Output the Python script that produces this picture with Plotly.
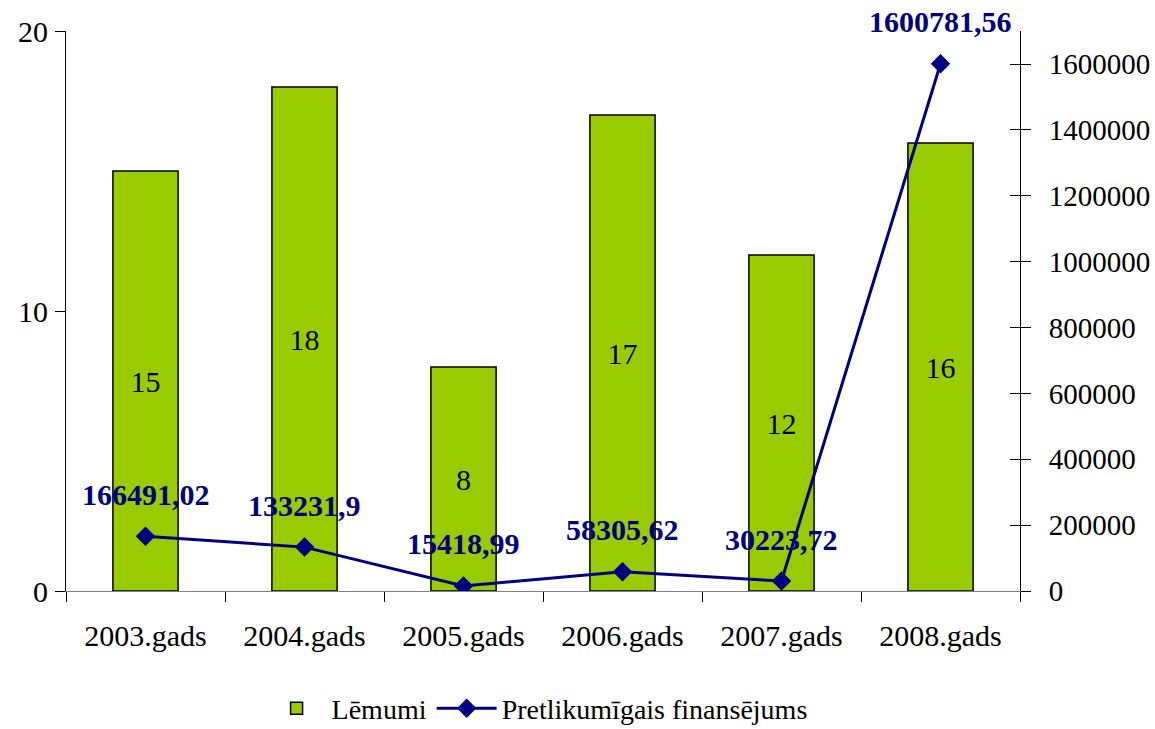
import plotly.graph_objects as go

years = ['2003.gads', '2004.gads', '2005.gads', '2006.gads', '2007.gads', '2008.gads']
lemumi = [15, 18, 8, 17, 12, 16]
finansejums = [166491.02, 133231.9, 15418.99, 58305.62, 30223.72, 1600781.56]
fin_labels = ['166491,02', '133231,9', '15418,99', '58305,62', '30223,72', '1600781,56']

FONT = 'Liberation Serif'
NAVY = '#000080'
FS = 30

fig = go.Figure()

# bars on left axis
fig.add_trace(go.Bar(
    x=years, y=lemumi, name='Lēmumi',
    marker=dict(color='#99CC00', line=dict(color='black', width=1.5)),
    width=0.41,
    text=[str(v) for v in lemumi], textposition='inside',
    insidetextanchor='middle', textangle=0,
    textfont=dict(family=FONT, size=FS, color='black'),
))

# line on right axis
fig.add_trace(go.Scatter(
    x=years, y=finansejums, name='Pretlikumīgais finansējums', yaxis='y2',
    mode='lines+markers',
    line=dict(color=NAVY, width=3),
    marker=dict(symbol='diamond', size=15, color=NAVY),
))

for x, y, t in zip(years, finansejums, fin_labels):
    fig.add_annotation(x=x, y=y, yref='y2', text=t, showarrow=False, yshift=42,
                       font=dict(family=FONT, size=FS, color=NAVY, weight='bold'))

right_max = 1600000 * 560 / 527
right_ticks = [0, 200000, 400000, 600000, 800000, 1000000, 1200000, 1400000, 1600000]

fig.update_layout(
    width=1155, height=729,
    margin=dict(l=66, r=135, t=31, b=138),
    plot_bgcolor='white', paper_bgcolor='white',
    font=dict(family=FONT, size=FS, color='black'),
    bargap=0.59,
    xaxis=dict(
        showline=True, linecolor='#808080', linewidth=1, automargin=False,
        ticks='outside', tickson='boundaries', ticklen=10, tickcolor='black',
        tickfont=dict(size=FS), showgrid=False, ticklabelstandoff=18,
    ),
    yaxis=dict(
        range=[0, 20], tickvals=[0, 10, 20], showgrid=False, zeroline=False,
        showline=True, linecolor='black', linewidth=1, automargin=False,
        ticks='outside', ticklen=10, tickcolor='black', ticklabelstandoff=1,
    ),
    yaxis2=dict(
        range=[0, right_max], overlaying='y', side='right', automargin=False,
        tickvals=right_ticks, tickfont=dict(size=29),
        tickformat='d', showgrid=False, zeroline=False,
        showline=True, linecolor='black', linewidth=1,
        ticks='outside', ticklen=10, tickcolor='black', ticklabelstandoff=12,
    ),
    yaxis3=dict(
        range=[0, right_max], overlaying='y', side='right', anchor='x', automargin=False,
        tickvals=right_ticks,
        showticklabels=False, showgrid=False, zeroline=False,
        ticks='inside', ticklen=10, tickcolor='black',
    ),
    legend=dict(orientation='h', x=0.465, xanchor='center', xref='container',
                y=0.028, yanchor='middle', yref='container', itemwidth=60,
                font=dict(size=28)),
    showlegend=True,
)

# empty trace to render the inner tick marks of the right axis
fig.add_trace(go.Scatter(x=[years[0]], y=[None], yaxis='y3', showlegend=False, hoverinfo='skip'))

# drop the default page margin so the figure fills the window
fig.write_html("out.html", config={'displayModeBar': False},
               post_script="document.body.style.margin='0';")
